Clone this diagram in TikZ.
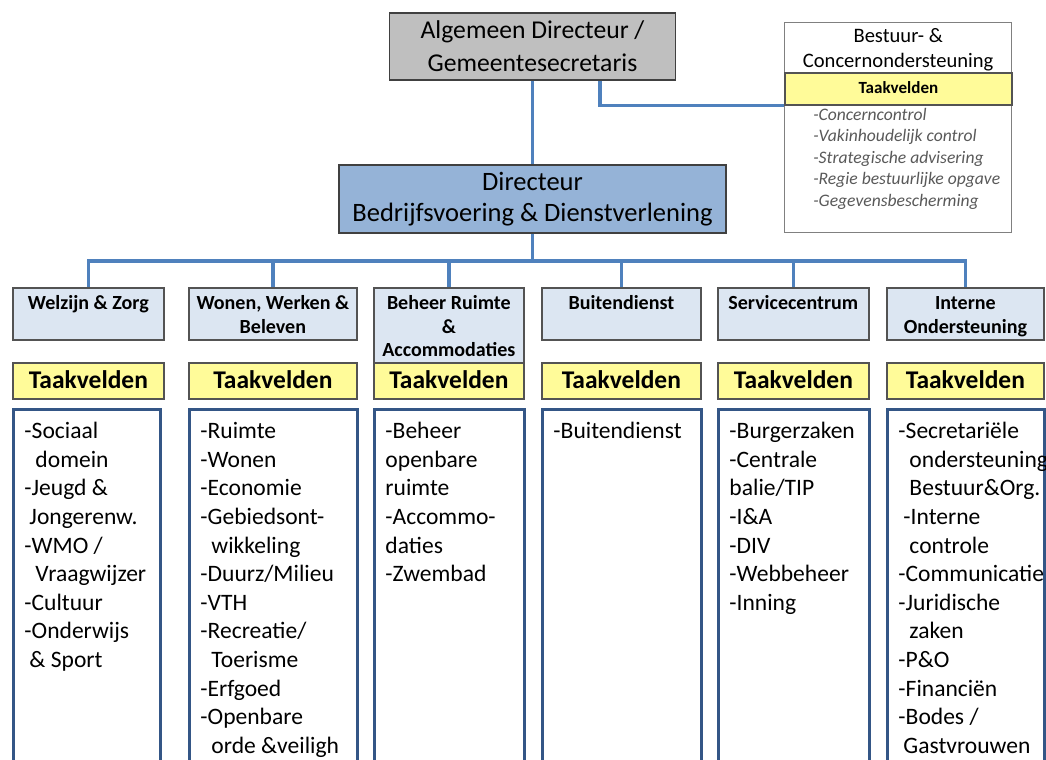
\documentclass[tikz,border=0pt]{standalone}
\usepackage{fontspec}
\setmainfont{Carlito}
\usetikzlibrary{calc}
\definecolor{lijnblauw}{RGB}{79,129,189}
\definecolor{kaderblauw}{RGB}{52,86,134}
\definecolor{dirblauw}{RGB}{149,179,215}
\definecolor{afdblauw}{RGB}{220,230,242}
\definecolor{taakgeel}{RGB}{255,251,153}
\definecolor{topgrijs}{RGB}{191,191,191}
\definecolor{randgrijs}{RGB}{64,64,64}
\definecolor{tekstgrijs}{RGB}{89,89,89}
\hyphenpenalty=10000
\exhyphenpenalty=10000
\newcommand{\inspr}{\leavevmode\hbox to 0.22cm{}}
\newcommand{\halfinspr}{\leavevmode\hbox to 0.1cm{}}
\tikzset{
lijn/.style={draw=lijnblauw,line width=1.9pt},
top node/.style={draw=randgrijs,fill=topgrijs,line width=1pt,inner sep=0pt,align=flush center,font=\fontsize{14.6}{18.8}\selectfont},
dir node/.style={draw=randgrijs,fill=dirblauw,line width=1pt,inner sep=0pt,align=flush center,font=\fontsize{15.1}{17.6}\selectfont},
bc node/.style={anchor=north west,draw=gray,fill=white,line width=0.8pt,inner sep=0pt,align=flush center,text width=4.54cm,text height=0.4cm,text depth=3.8cm,font=\fontsize{11.7}{14.2}\selectfont},
afd node/.style={anchor=north west,draw=randgrijs!90,fill=afdblauw,line width=1pt,inner sep=0pt,align=flush center,text height=0.44cm,text depth=0.6cm,font=\bfseries\fontsize{11.4}{13.4}\selectfont},
taak node/.style={anchor=north west,draw=randgrijs!90,fill=taakgeel,line width=1pt,inner sep=0pt,align=flush center,text height=0.52cm,text depth=0.2cm,font=\bfseries\fontsize{14.5}{17}\selectfont},
lijst node/.style={anchor=north west,draw=kaderblauw,line width=1.7pt,inner xsep=0.22cm,inner ysep=0pt,align=flush left,text height=0.58cm,text depth=8cm,font=\fontsize{13.4}{16.3}\selectfont}}

\begin{document}
\begin{tikzpicture}[x=0.02cm,y=-0.02cm]

\useasboundingbox (0,0) rectangle (1046,760);
\clip (0,0) rectangle (1046,760);

      \node[top node,minimum width=5.72cm,minimum height=1.34cm] (ad) at (532.5,46.5) {Algemeen Directeur /\\Gemeentesecretaris};
      \node[dir node,minimum width=7.74cm,minimum height=1.36cm] (dir) at (532.5,199) {Directeur\\Bedrijfsvoering \& Dienstverlening};

      \node[bc node] (bc) at (784,22) {Bestuur- \&\\Concernondersteuning};
      \node[taak node,text width=4.54cm,text height=0.42cm,text depth=0.22cm,font=\bfseries\fontsize{9.7}{11}\selectfont] (bct) at (784,72) {Taakvelden};
      \node[anchor=north west,inner sep=0pt,align=flush left,text width=3.9cm,text height=0.32cm,text=tekstgrijs,font=\itshape\fontsize{10}{12.2}\selectfont] (bcl) at (813,104) {-Concerncontrol\\-Vakinhoudelijk control\\-Strategische advisering\\-Regie bestuurlijke opgave\\-Gegevensbescherming};

      \node[afd node,text width=3.02cm] (a1) at (12,287) {Welzijn \& Zorg};
      \node[afd node,text width=3.36cm] (a2) at (188,287) {Wonen, Werken \&\\Beleven};
      \node[afd node,text width=3.00cm,text depth=1.1cm] (a3) at (373,287) {Beheer Ruimte\\\&\\Accommodaties};
      \node[afd node,text width=3.18cm] (a4) at (541,287) {Buitendienst};
      \node[afd node,text width=3.02cm] (a5) at (717,287) {Servicecentrum};
      \node[afd node,text width=3.14cm] (a6) at (886,287) {Interne\\Ondersteuning};

      \node[taak node,text width=3.02cm] (t1) at (12,362) {Taakvelden};
      \node[taak node,text width=3.36cm] (t2) at (188,362) {Taakvelden};
      \node[taak node,text width=3.00cm] (t3) at (373,362) {Taakvelden};
      \node[taak node,text width=3.18cm] (t4) at (541,362) {Taakvelden};
      \node[taak node,text width=3.02cm] (t5) at (717,362) {Taakvelden};
      \node[taak node,text width=3.14cm] (t6) at (886,362) {Taakvelden};

      \node[lijst node,text width=2.50cm] (l1) at (12,408) {-Sociaal\\\inspr domein\\-Jeugd \&\\\halfinspr Jongerenw.\\-WMO /\\\inspr Vraagwijzer\\-Cultuur\\-Onderwijs\\\halfinspr\& Sport};
      \node[lijst node,text width=2.92cm] (l2) at (188,408) {-Ruimte\\-Wonen\\-Economie\\-Gebiedsont-\\\inspr wikkeling\\-Duurz/Milieu\\-VTH\\-Recreatie/\\\inspr Toerisme\\-Erfgoed\\-Openbare\\\inspr orde \&veiligh};
      \node[lijst node,text width=2.56cm] (l3) at (373,408) {-Beheer\\openbare\\ruimte\\-Accommo-\\daties\\-Zwembad};
      \node[lijst node,text width=2.74cm] (l4) at (541,408) {-Buitendienst};
      \node[lijst node,text width=2.58cm] (l5) at (717,408) {-Burgerzaken\\-Centrale\\balie/TIP\\-I\&A\\-DIV\\-Webbeheer\\-Inning};
      \node[lijst node,text width=2.70cm] (l6) at (886,408) {-Secretariële\\\inspr ondersteuning\\\inspr Bestuur\&Org.\\\halfinspr-Interne\\\inspr controle\\-Communicatie\\-Juridische\\\inspr zaken\\-P\&O\\-Financiën\\-Bodes /\\\halfinspr Gastvrouwen};

      \draw[lijn] (ad.south) -- (dir.north);
      \draw[lijn] ($(ad.south)+(67.5,0)$) |- (bct.south west);
      \draw[lijn] (dir.south) -- ++(0,27) coordinate (bus);
      \draw[lijn] (bus) -| (a1.north) (bus) -| (a2.north) (bus) -| (a3.north);
      \draw[lijn] (bus) -| (a4.north) (bus) -| (a5.north) (bus) -| (a6.north);
\end{tikzpicture}
\end{document}
